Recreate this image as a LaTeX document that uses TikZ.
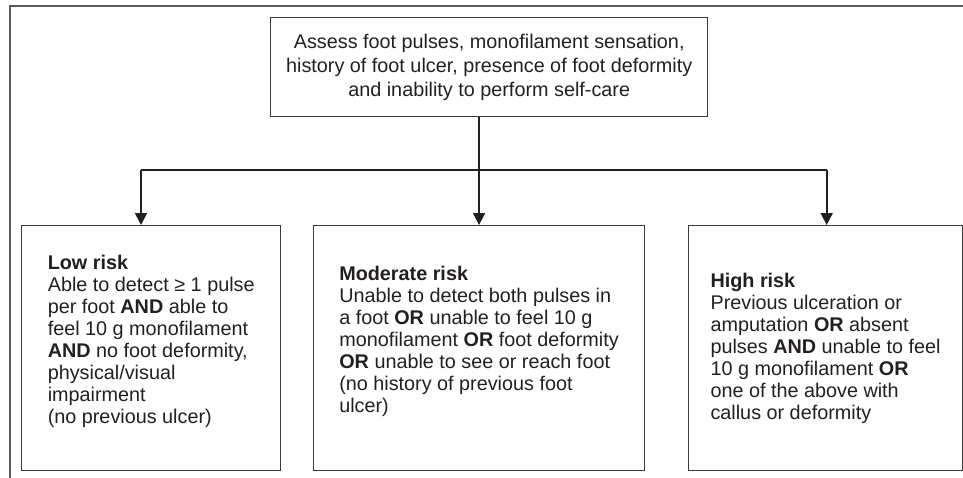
\documentclass[tikz,border=0pt]{standalone}
\usepackage{fontspec}
\setmainfont{Liberation Sans}
\usetikzlibrary{arrows.meta}
\definecolor{txt}{HTML}{231F20}
\definecolor{boxline}{HTML}{3A3A3A}
\definecolor{frame}{HTML}{5A5A5A}
\newcommand{\padbottom}{\rule[-18pt]{0pt}{18pt}}
\begin{document}
\begin{tikzpicture}[x=1pt,y=-1pt,
  riskbox/.style={draw=boxline, line width=1.4pt, rectangle, inner sep=0pt,
    align=left, text=txt, font=\fontsize{19.8pt}{22pt}\selectfont, anchor=north west},
  topbox/.style={draw=boxline, line width=1.4pt, rectangle, inner sep=0pt,
    align=center, text=txt, font=\fontsize{19.8pt}{24.3pt}\selectfont, anchor=north west},
  conn/.style={draw=txt, line width=1.8pt},
  arr/.style={conn, -{Triangle[width=12pt,length=12pt]}}]
\useasboundingbox (0,0) rectangle (963,477);
% outer frame (top and left lines)
\draw[frame, line width=1.4pt] (10,480) -- (10,6) -- (970,6);
% top box
\node[topbox, minimum width=437pt, minimum height=99pt] (top) at (270,17)
  {Assess foot pulses, monofilament sensation,\\history of foot ulcer, presence of foot deformity\\and inability to perform self-care};
% risk boxes
\node[riskbox, minimum width=259pt, minimum height=245pt] (low) at (21,225)
  {\textbf{Low risk}\\Able to detect ≥ 1 pulse\\per foot \textbf{AND} able to\\feel 10 g monofilament\\\textbf{AND} no foot deformity,\\physical/visual\\impairment\\(no previous ulcer)\padbottom};
\node[riskbox, minimum width=331.3pt, minimum height=245pt] (mid) at (312.7,225)
  {\textbf{Moderate risk}\\Unable to detect both pulses in\\a foot \textbf{OR} unable to feel 10 g\\monofilament \textbf{OR} foot deformity\\\textbf{OR} unable to see or reach foot\\(no history of previous foot\\ulcer)\padbottom};
\node[riskbox, minimum width=274.3pt, minimum height=245pt] (high) at (687.7,225)
  {\textbf{High risk}\\Previous ulceration or\\amputation \textbf{OR} absent\\pulses \textbf{AND} unable to feel\\10 g monofilament \textbf{OR}\\one of the above with\\callus or deformity};
% connectors
\coordinate (jl) at (141,170);
\coordinate (jr) at (826.7,170);
\draw[conn] (jl) -- (jr);
\draw[arr] (mid.north |- top.south) -- (mid.north);
\draw[arr] (jl) -- (jl |- low.north);
\draw[arr] (jr) -- (jr |- high.north);
\end{tikzpicture}
\end{document}
